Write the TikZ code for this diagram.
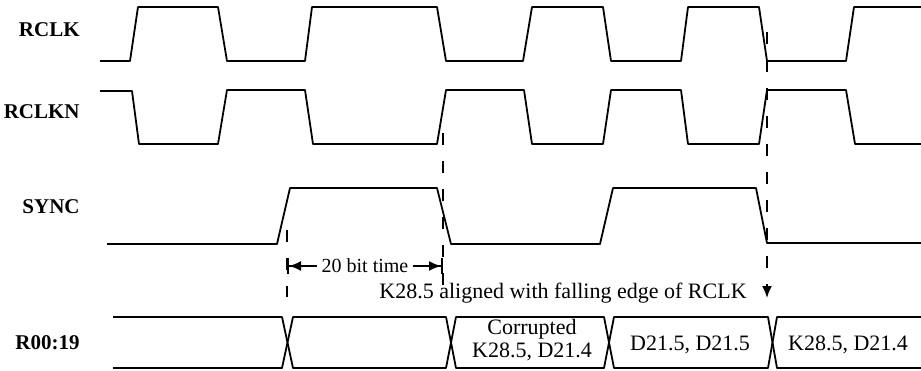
\documentclass[tikz,border=0pt]{standalone}
\usepackage{fontspec}
\setmainfont{Liberation Serif}
\usetikzlibrary{arrows.meta}

\begin{document}
\begin{tikzpicture}[x=0.5pt,y=-0.5pt,
  wave/.style={line width=0.9pt,line join=round},
  guide/.style={line width=0.9pt,dash pattern=on 6pt off 8pt},
  sig/.style={anchor=base east,inner sep=0pt,font=\fontsize{10.5}{12}\selectfont\bfseries},
  bustxt/.style={inner sep=0pt,align=center,font=\fontsize{11}{11.5}\selectfont}]
\useasboundingbox (0,0) rectangle (921,370);

% signal names
\node[sig] (rclk) at (80,36) {RCLK};
\node[sig] (rclkn) at (80,118) {RCLKN};
\node[sig] (sync) at (80,213) {SYNC};
\node[sig] (rdat) at (80,349) {R00:19};

% waveforms
\draw[wave] (100,61) -- (130,61) -- (138,7) -- (218,7) -- (227,61) -- (305,61) -- (312,7) -- (437,7) -- (446,61)
  -- (523,61) -- (532,7) -- (603,7) -- (611,61) -- (681,61) -- (688,7) -- (759,7) -- (767,61) -- (846,61) -- (854,7) -- (921,7);
\draw[wave] (100,91) -- (132,91) -- (139,144) -- (218,144) -- (227,90) -- (305,90) -- (313,144) -- (437,144) -- (446,90)
  -- (524,90) -- (532,144) -- (603,144) -- (611,90) -- (681,90) -- (688,144) -- (759,144) -- (767,90) -- (846,90) -- (855,144) -- (921,144);
\draw[wave] (107,244) -- (277,244) -- (290,188) -- (437,188) -- (451,244) -- (600,244) -- (613,188) -- (756,188) -- (767,243) -- (921,243);

% data bus
\draw[wave] (113,317) -- (282,317) -- (293,368) -- (446,368) -- (456,317) -- (604,317) -- (614,368) -- (768,368) -- (777,317) -- (921,317);
\draw[wave] (113,368) -- (282,368) -- (293,317) -- (446,317) -- (456,368) -- (604,368) -- (614,317) -- (768,317) -- (777,368) -- (921,368);
\node[bustxt] (corr) at (532,340) {Corrupted\\K28.5, D21.4};
\node[bustxt,anchor=base] (dd) at (690,350) {D21.5, D21.5};
\node[bustxt,anchor=base] (kd) at (848,350) {K28.5, D21.4};

% markers
\coordinate (m1a) at (287,230);
\coordinate (m1b) at (287,297);
\coordinate (m2a) at (443,133);
\coordinate (m2b) at (443,287);
\coordinate (m3a) at (767,32);
\coordinate (m3b) at (767,298);
\draw[guide] (m1a) -- (m1b);
\draw[guide] (m2a) -- (m2b);
\draw[guide,-{Latex[length=6pt,width=5pt]}] (m3a) -- (m3b);

% 20 bit time
\node[inner sep=2pt,font=\fontsize{10}{12}\selectfont] (span) at (365,266) {20 bit time};
\coordinate (s1) at (287,266);
\coordinate (s2) at (443,266);
\draw[line width=0.8pt,-{Latex[length=6pt,width=5pt]Bar[width=8pt,line width=1pt]}] (span.west) -- (s1);
\draw[line width=0.8pt,-{Latex[length=6pt,width=5pt]Bar[width=8pt,line width=1pt]}] (span.east) -- (s2);

\node[anchor=base,inner sep=0pt,font=\fontsize{11}{13}\selectfont] (note) at (563,298) {K28.5 aligned with falling edge of RCLK};
\end{tikzpicture}
\end{document}
